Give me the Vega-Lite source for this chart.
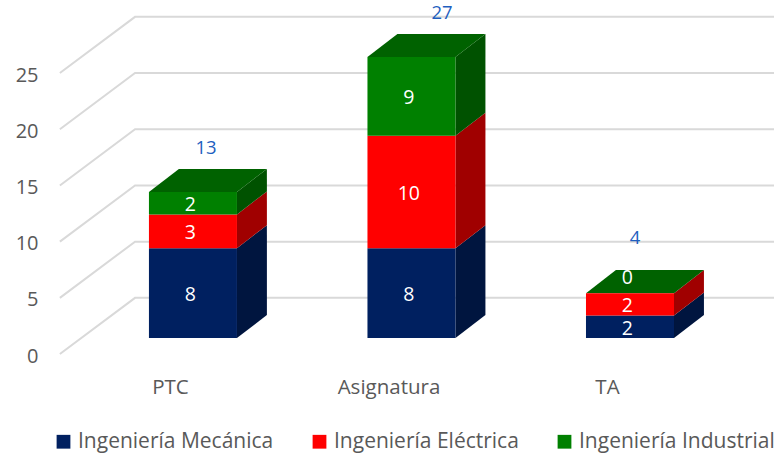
{"$schema":"https://vega.github.io/schema/vega-lite/v6.json","width":774,"height":457,"autosize":{"type":"none"},"padding":0,"background":"white","config":{"view":{"stroke":null},"font":"Open Sans"},"datasets":{"filas":[{"categoria":"PTC","serie":"Ingeniería Mecánica","valor":8},{"categoria":"PTC","serie":"Ingeniería Eléctrica","valor":3},{"categoria":"PTC","serie":"Ingeniería Industrial","valor":2},{"categoria":"Asignatura","serie":"Ingeniería Mecánica","valor":8},{"categoria":"Asignatura","serie":"Ingeniería Eléctrica","valor":10},{"categoria":"Asignatura","serie":"Ingeniería Industrial","valor":9},{"categoria":"TA","serie":"Ingeniería Mecánica","valor":2},{"categoria":"TA","serie":"Ingeniería Eléctrica","valor":2},{"categoria":"TA","serie":"Ingeniería Industrial","valor":0}],"marcas":[{"v":0},{"v":5},{"v":10},{"v":15},{"v":20},{"v":25}]},"layer":[{"data":{"name":"marcas"},"transform":[{"calculate":"[0,1,2]","as":"p"},{"flatten":["p"]},{"calculate":"[-0.609,-0.265,2.66][datum.p]","as":"gx"},{"calculate":"datum.v+[0,5,5][datum.p]","as":"gy"}],"mark":{"type":"line","color":"#d9d9d9","strokeWidth":2},"encoding":{"x":{"field":"gx","type":"quantitative","scale":{"domain":[-0.883,2.659],"nice":false,"zero":false},"axis":{"values":[0,1,2],"labelExpr":"['PTC','Asignatura','TA'][datum.value]","title":null,"domain":false,"ticks":false,"grid":false,"orient":"bottom","offset":-84,"labelOffset":-23,"labelFontSize":20.5,"labelColor":"#595959","labelFont":"Open Sans","labelPadding":4}},"y":{"field":"gy","type":"quantitative","scale":{"domain":[-9.16,31.5],"nice":false,"zero":false},"axis":{"values":[0,5,10,15,20,25],"title":null,"domain":false,"ticks":false,"grid":false,"orient":"left","offset":-42,"labelOffset":2,"labelFontSize":20,"labelColor":"#595959","labelFont":"Open Sans","labelPadding":4}},"detail":{"field":"v"},"order":{"field":"p"}}},{"data":{"name":"filas"},"transform":[{"calculate":"indexof(['PTC','Asignatura','TA'],datum.categoria)","as":"idx"},{"calculate":"indexof(['Ingeniería Mecánica','Ingeniería Eléctrica','Ingeniería Industrial'],datum.serie)","as":"ord"},{"stack":"valor","groupby":["categoria"],"sort":[{"field":"ord","order":"ascending"}],"as":["y0","y1"]},{"calculate":"min(datum.y0,25)+1.42","as":"b0"},{"calculate":"min(datum.y1,25)+1.42","as":"b1"},{"calculate":"datum.idx-0.2014","as":"xl"},{"calculate":"datum.idx+0.2014","as":"xr"},{"joinaggregate":[{"op":"sum","field":"valor","as":"total"}],"groupby":["categoria"]}],"layer":[{"transform":[{"calculate":"[0,1]","as":"s"},{"flatten":["s"]},{"calculate":"datum.xr+datum.s*0.137","as":"sx"},{"calculate":"datum.b0+datum.s*2.05","as":"sa"},{"calculate":"datum.b1+datum.s*2.05","as":"sb"}],"mark":{"type":"area","orient":"vertical","stroke":null},"encoding":{"x":{"field":"sx","type":"quantitative"},"y":{"field":"sa","type":"quantitative"},"y2":{"field":"sb"},"detail":{"field":"categoria"},"color":{"field":"serie","type":"nominal","scale":{"domain":["Ingeniería Mecánica","Ingeniería Eléctrica","Ingeniería Industrial"],"range":["#00153f","#a00000","#005200"]},"legend":null}}},{"transform":[{"filter":"datum.ord==2"},{"calculate":"[0,1]","as":"s"},{"flatten":["s"]},{"calculate":"datum.xl+datum.s*0.137","as":"ta"},{"calculate":"datum.xr+datum.s*0.137","as":"tb"},{"calculate":"datum.b1+datum.s*2.05","as":"ty"}],"mark":{"type":"area","orient":"horizontal","color":"#006200","stroke":null},"encoding":{"y":{"field":"ty","type":"quantitative"},"x":{"field":"ta","type":"quantitative"},"x2":{"field":"tb"},"detail":{"field":"categoria"}}},{"mark":{"type":"rect","stroke":null},"encoding":{"x":{"field":"xl","type":"quantitative"},"x2":{"field":"xr"},"y":{"field":"b0","type":"quantitative"},"y2":{"field":"b1"},"color":{"field":"serie","type":"nominal","scale":{"domain":["Ingeniería Mecánica","Ingeniería Eléctrica","Ingeniería Industrial"],"range":["#002060","#ff0000","#008000"]},"legend":{"title":null,"orient":"none","direction":"horizontal","legendX":53,"legendY":431,"symbolType":"square","symbolSize":190,"symbolStrokeWidth":0,"labelFontSize":21,"labelFont":"Open Sans","labelColor":"#595959","columnPadding":35,"labelLimit":300}}}},{"transform":[{"calculate":"(datum.b0+datum.b1)/2+(datum.valor==0?1.5:0)","as":"ly"},{"calculate":"datum.idx-0.012","as":"lx"}],"mark":{"type":"text","color":"white","fontSize":19.5,"font":"Open Sans","dy":2},"encoding":{"x":{"field":"lx","type":"quantitative"},"y":{"field":"ly","type":"quantitative"},"text":{"field":"valor","type":"quantitative"}}},{"transform":[{"filter":"datum.ord==2"},{"calculate":"datum.idx+[0.06,0.14,0.023][datum.idx]","as":"tx"},{"calculate":"datum.b1+[4.0,4.0,5.0][datum.idx]","as":"tty"}],"mark":{"type":"text","color":"#1f5fbf","fontSize":18.5,"font":"Open Sans","dy":1},"encoding":{"x":{"field":"tx","type":"quantitative"},"y":{"field":"tty","type":"quantitative"},"text":{"field":"total","type":"quantitative"}}}],"resolve":{"scale":{"color":"independent"}}}]}
